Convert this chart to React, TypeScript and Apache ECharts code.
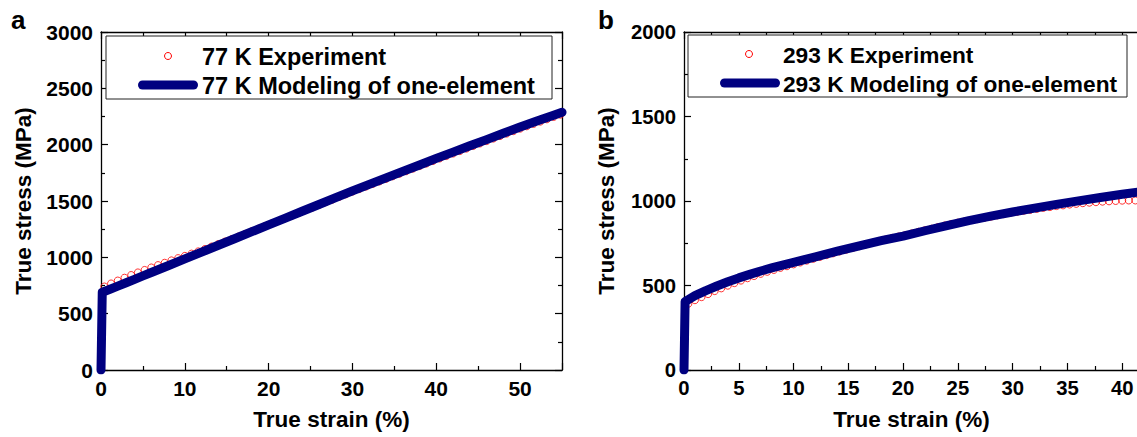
import React, { useEffect, useRef } from "react";
import * as echarts from "echarts";

const FONT = '"Liberation Sans", Arial, Helvetica, sans-serif';

// ---- Panel a: 77 K ----
const leftExpStrain = [0.4, 1.2, 2.0, 2.8, 3.6, 4.4, 5.2, 6.0, 6.8, 7.6, 8.4, 9.2, 10.0, 10.8, 11.6, 12.4, 13.2, 14.0, 14.8, 15.6, 16.4, 17.2, 18.0, 18.8, 19.6, 20.4, 21.2, 22.0, 22.8, 23.6, 24.4, 25.2, 26.0, 26.8, 27.6, 28.4, 29.2, 30.0, 30.8, 31.6, 32.4, 33.2, 34.0, 34.8, 35.6, 36.4, 37.2, 38.0, 38.8, 39.6, 40.4, 41.2, 42.0, 42.8, 43.6, 44.4, 45.2, 46.0, 46.8, 47.6, 48.4, 49.2, 50.0, 50.8, 51.6, 52.4, 53.2, 54.0, 54.8];
const leftExpStress = [741, 768, 794, 819, 843, 866, 888, 910, 931, 952, 973, 993, 1013, 1033, 1053, 1074, 1096, 1118, 1140, 1162, 1185, 1208, 1232, 1255, 1278, 1301, 1324, 1347, 1371, 1394, 1418, 1441, 1465, 1489, 1512, 1536, 1559, 1583, 1605, 1628, 1651, 1673, 1696, 1719, 1741, 1764, 1787, 1810, 1832, 1855, 1877, 1899, 1921, 1943, 1965, 1988, 2010, 2032, 2054, 2076, 2098, 2120, 2142, 2163, 2184, 2204, 2225, 2246, 2266];
const leftModelStrain = [0, 0.15, 1, 2, 3, 4, 5, 6, 8, 10, 12, 14, 16, 18, 20, 22, 24, 26, 28, 30, 32, 34, 36, 38, 40, 42, 44, 46, 48, 50, 52, 54, 55];
const leftModelStress = [0, 690, 714, 744, 774, 805, 835, 865, 925, 986, 1046, 1107, 1167, 1228, 1288, 1348, 1409, 1469, 1530, 1590, 1648, 1705, 1763, 1820, 1878, 1934, 1990, 2045, 2101, 2157, 2209, 2261, 2287];

// ---- Panel b: 293 K ----
const rightExpStrain = [0.4, 1.0, 1.6, 2.2, 2.8, 3.4, 4.0, 4.6, 5.2, 5.8, 6.4, 7.0, 7.6, 8.2, 8.8, 9.4, 10.0, 10.6, 11.2, 11.8, 12.4, 13.0, 13.6, 14.2, 14.8, 15.4, 16.0, 16.6, 17.2, 17.8, 18.4, 19.0, 19.6, 20.2, 20.8, 21.4, 22.0, 22.6, 23.2, 23.8, 24.4, 25.0, 25.6, 26.2, 26.8, 27.4, 28.0, 28.6, 29.2, 29.8, 30.4, 31.0, 31.6, 32.2, 32.8, 33.4, 34.0, 34.6, 35.2, 35.8, 36.4, 37.0, 37.6, 38.2, 38.8, 39.4, 40.0, 40.6, 41.2];
const rightExpStress = [392, 413, 431, 449, 467, 483, 499, 514, 529, 543, 556, 569, 581, 592, 604, 614, 625, 636, 647, 658, 669, 680, 690, 701, 712, 722, 733, 743, 753, 763, 772, 782, 790, 798, 808, 818, 827, 836, 846, 855, 864, 872, 879, 887, 893, 900, 907, 915, 922, 930, 936, 942, 947, 953, 959, 964, 970, 974, 979, 983, 987, 990, 993, 996, 998, 1000, 1002, 1003, 1003];
const rightModelStrain = [0, 0.1, 1, 2, 3, 4, 5, 6, 7, 8, 9, 10, 12, 14, 16, 18, 20, 22, 24, 26, 28, 30, 32, 34, 36, 38, 40, 42, 45];
const rightModelStress = [0, 405, 440, 470, 497, 522, 545, 566, 586, 604, 621, 637, 670, 703, 735, 765, 792, 824, 855, 884, 910, 935, 958, 980, 1001, 1021, 1040, 1058, 1085];

const zip = (xs: number[], ys: number[]) => xs.map((x, i) => [x, ys[i]]);

const axisCommon = (labelSize: number, showLabel: boolean) => ({
  type: "value" as const,
  axisLine: { show: true, onZero: false, lineStyle: { color: "#000", width: 1.3 } },
  axisTick: { show: true, inside: true, length: 7, lineStyle: { color: "#000", width: 1.2 } },
  minorTick: { show: true, splitNumber: 2, length: 4, lineStyle: { color: "#000", width: 1.2 } },
  splitLine: { show: false },
  minorSplitLine: { show: false },
  axisLabel: {
    show: showLabel,
    margin: 8,
    color: "#000",
    fontFamily: FONT,
    fontWeight: "bold" as const,
    fontSize: labelSize,
    formatter: (v: number) => String(v),
  },
});

const nameStyle = { fontFamily: FONT, fontWeight: "bold" as const, fontSize: 22.5, color: "#000" };

export default function App() {
  const ref = useRef<HTMLDivElement>(null);
  useEffect(() => {
    if (!ref.current) return;
    const chart = echarts.init(ref.current, undefined, { renderer: "svg" });
    const option: any = {
      animation: false,
      backgroundColor: "#fff",
      grid: [
        { left: 101, top: 32, width: 461, height: 338, outerBoundsMode: "none", containLabel: false },
        { left: 684, top: 32, width: 493, height: 338, outerBoundsMode: "none", containLabel: false },
      ],
      xAxis: [
        {
          ...axisCommon(21, true), gridIndex: 0, position: "bottom", min: 0, max: 55, interval: 10,
          axisLabel: { ...axisCommon(21, true).axisLabel, showMaxLabel: false },
          name: "True strain (%)", nameLocation: "middle", nameGap: 38, nameTextStyle: nameStyle,
        },
        { ...axisCommon(21, false), gridIndex: 0, position: "top", min: 0, max: 55, interval: 10 },
        {
          ...axisCommon(20.3, true), gridIndex: 1, position: "bottom", min: 0, max: 45, interval: 5,
          axisLabel: { ...axisCommon(20.3, true).axisLabel, showMaxLabel: false },
          name: "True strain (%)", nameLocation: "middle", nameGap: 38,
          nameTextStyle: { ...nameStyle, padding: [0, 38, 0, 0] },
        },
        { ...axisCommon(20.3, false), gridIndex: 1, position: "top", min: 0, max: 45, interval: 5 },
      ],
      yAxis: [
        {
          ...axisCommon(21, true), gridIndex: 0, position: "left", min: 0, max: 3000, interval: 500,
          name: "True stress (MPa)", nameLocation: "middle", nameGap: 66, nameTextStyle: nameStyle,
        },
        { ...axisCommon(21, false), gridIndex: 0, position: "right", min: 0, max: 3000, interval: 500 },
        {
          ...axisCommon(20.3, true), gridIndex: 1, position: "left", min: 0, max: 2000, interval: 500,
          name: "True stress (MPa)", nameLocation: "middle", nameGap: 66, nameTextStyle: nameStyle,
        },
        { ...axisCommon(20.3, false), gridIndex: 1, position: "right", min: 0, max: 2000, interval: 500 },
      ],
      series: [
        {
          name: "77 K Experiment", type: "scatter", xAxisIndex: 0, yAxisIndex: 0,
          data: zip(leftExpStrain, leftExpStress), symbol: "circle", symbolSize: 7,
          itemStyle: { color: "rgba(0,0,0,0)", borderColor: "#ff0000", borderWidth: 1 }, z: 2,
        },
        {
          name: "77 K Modeling of one-element", type: "line", xAxisIndex: 0, yAxisIndex: 0,
          data: zip(leftModelStrain, leftModelStress), showSymbol: false, symbol: "none",
          lineStyle: { color: "#000080", width: 9, cap: "round", join: "round" }, z: 3,
        },
        {
          name: "293 K Experiment", type: "scatter", xAxisIndex: 2, yAxisIndex: 2,
          data: zip(rightExpStrain, rightExpStress), symbol: "circle", symbolSize: 7,
          itemStyle: { color: "rgba(0,0,0,0)", borderColor: "#ff0000", borderWidth: 1 }, z: 2,
        },
        {
          name: "293 K Modeling of one-element", type: "line", xAxisIndex: 2, yAxisIndex: 2,
          data: zip(rightModelStrain, rightModelStress), showSymbol: false, symbol: "none",
          lineStyle: { color: "#000080", width: 9, cap: "round", join: "round" }, z: 3,
        },
      ],
      graphic: [
        { type: "text", x: 11, y: 20, z: 20, style: { text: "a", font: `bold 26px ${FONT}`, fill: "#000", verticalAlign: "middle" } },
        { type: "text", x: 598, y: 20, z: 20, style: { text: "b", font: `bold 26px ${FONT}`, fill: "#000", verticalAlign: "middle" } },
        // legend a
        { type: "rect", z: 20, shape: { x: 106, y: 36, width: 446, height: 63 }, style: { fill: "#fff", stroke: "#222", lineWidth: 1 } },
        { type: "circle", z: 21, shape: { cx: 168, cy: 56, r: 3.5 }, style: { fill: "none", stroke: "#ff0000", lineWidth: 1 } },
        { type: "line", z: 21, shape: { x1: 142.5, y1: 85, x2: 193.5, y2: 85 }, style: { stroke: "#000080", lineWidth: 9, lineCap: "round" } },
        { type: "text", z: 21, x: 202, y: 57, style: { text: "77 K Experiment", font: `bold 23.5px ${FONT}`, fill: "#000", verticalAlign: "middle" } },
        { type: "text", z: 21, x: 202, y: 86, style: { text: "77 K Modeling of one-element", font: `bold 23.5px ${FONT}`, fill: "#000", verticalAlign: "middle" } },
        // legend b
        { type: "rect", z: 20, shape: { x: 688, y: 35, width: 439, height: 62 }, style: { fill: "#fff", stroke: "#222", lineWidth: 1 } },
        { type: "circle", z: 21, shape: { cx: 749, cy: 54, r: 3.5 }, style: { fill: "none", stroke: "#ff0000", lineWidth: 1 } },
        { type: "line", z: 21, shape: { x1: 724.5, y1: 83, x2: 775.5, y2: 83 }, style: { stroke: "#000080", lineWidth: 9, lineCap: "round" } },
        { type: "text", z: 21, x: 783, y: 55, style: { text: "293 K Experiment", font: `bold 22.7px ${FONT}`, fill: "#000", verticalAlign: "middle" } },
        { type: "text", z: 21, x: 783, y: 84, style: { text: "293 K Modeling of one-element", font: `bold 22.7px ${FONT}`, fill: "#000", verticalAlign: "middle" } },
      ],
    };
    chart.setOption(option);
    return () => chart.dispose();
  }, []);
  return (
    <div
      ref={ref}
      style={{ position: "absolute", left: 0, top: 0, width: 1137, height: 437, overflow: "hidden", background: "#fff" }}
    />
  );
}
